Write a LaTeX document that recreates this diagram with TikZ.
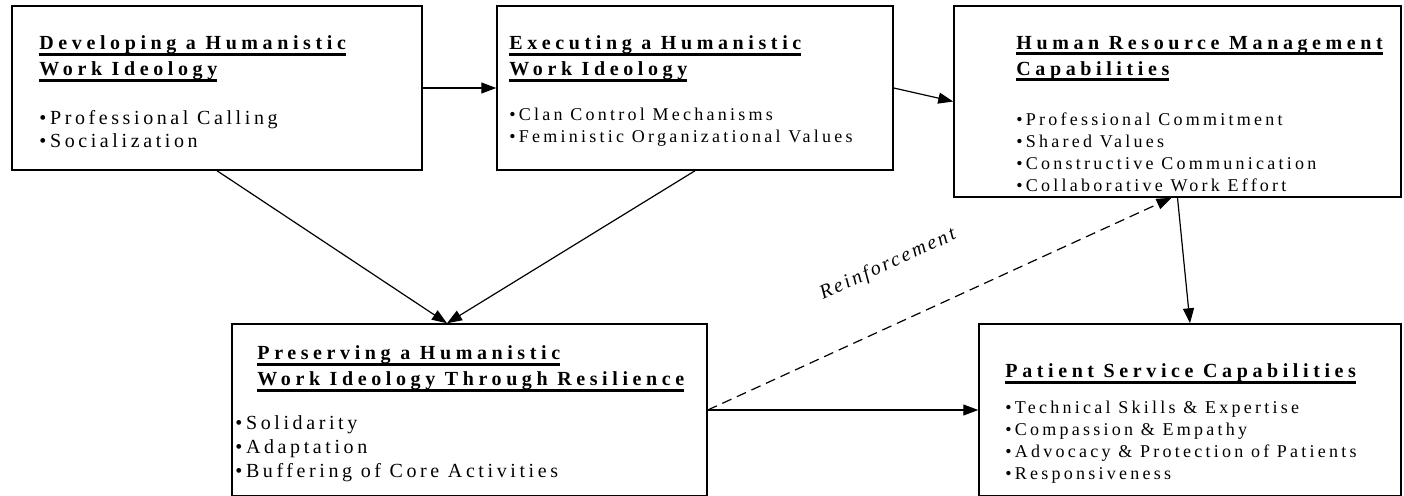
\documentclass[tikz,border=0pt]{standalone}
\usepackage{fontspec}
\setmainfont[LetterSpace=18]{Liberation Serif}
\usepackage{tikz}
\usetikzlibrary{positioning,arrows.meta}

\newsavebox\ulbox
\newcommand\ulbar[1]{\sbox\ulbox{#1}\rlap{\rule[-6pt]{\wd\ulbox}{2.8pt}}\usebox\ulbox}
\newcommand\headline[1]{{\fontsize{20}{22}\selectfont\bfseries\addfontfeature{LetterSpace=23}\ulbar{#1}}}

\tikzset{
  box/.style={draw, line width=1.5pt, inner sep=0pt},
  boxtext/.style={inner sep=0pt, align=left, font=\fontsize{#1}{22}\selectfont},
  boxtext/.default=20,
  link/.style={line width=1.2pt, -{Triangle[length=15pt,width=11pt]}},
}

\begin{document}
\begin{tikzpicture}[x=1pt,y=-1pt]
\useasboundingbox (0,0) rectangle (1404,495);
\clip (0,0) rectangle (1404,495);

\node[box, minimum width=410pt, minimum height=164pt] (dev) at (217,88) {};
\node[box, minimum width=396pt, minimum height=164pt] (exe) at (695,88) {};
\node[box, minimum width=447pt, minimum height=191pt] (hrm) at (1177.5,101.5) {};
\node[box, minimum width=475pt, minimum height=172pt] (pres) at (469.5,410) {};
\node[box, minimum width=422pt, minimum height=172pt] (pat) at (1190,410) {};

\node[boxtext, below right=30.5pt and 28pt of dev.north west] (devtext)
  {\headline{Developing a Humanistic}\\[4pt] \headline{Work Ideology}\\[27pt]
   •Professional Calling\\[1pt] •Socialization};
\node[boxtext=18, below right=30.5pt and 13pt of exe.north west] (exetext)
  {\headline{Executing a Humanistic}\\[4pt] \headline{Work Ideology}\\[23pt]
   •Clan Control Mechanisms\\ •Feministic Organizational Values};
\node[boxtext=18, below right=30.5pt and 63pt of hrm.north west] (hrmtext)
  {\headline{Human Resource Management}\\[4pt] \headline{Capabilities}\\[28pt]
   •Professional Commitment\\ •Shared Values\\ •Constructive Communication\\
   •Collaborative Work Effort};
\node[boxtext, below right=22.5pt and 4pt of pres.north west] (prestext)
  {\hspace*{22pt}\headline{Preserving a Humanistic}\\[4pt]
   \hspace*{22pt}\headline{Work Ideology Through Resilience}\\[22pt]
   •Solidarity\\[2pt] •Adaptation\\[2pt] •Buffering of Core Activities};
\node[boxtext=18, below right=40.5pt and 27pt of pat.north west] (pattext)
  {\headline{Patient Service Capabilities}\\[14pt]
   •Technical Skills \& Expertise\\ •Compassion \& Empathy\\
   •Advocacy \& Protection of Patients\\ •Responsiveness};

\draw[link] (dev.east) to (exe.west);
\draw[link] (exe.east) to (hrm.west);
\draw[link] (dev.south) to ([xshift=-22.5pt]pres.north);
\draw[link] (exe.south) to ([xshift=-22.5pt]pres.north);
\draw[link] (hrm.south) to (pat.north);
\draw[link] (pres.east) to (pat.west);
\draw[link, dash pattern=on 10pt off 6pt] (pres.east) to
  node[sloped, above=44pt, pos=0.44, font=\fontsize{20}{22}\selectfont\itshape\addfontfeature{LetterSpace=13}] (reinf) {Reinforcement}
  ([xshift=-6pt]hrm.south);

\end{tikzpicture}
\end{document}
